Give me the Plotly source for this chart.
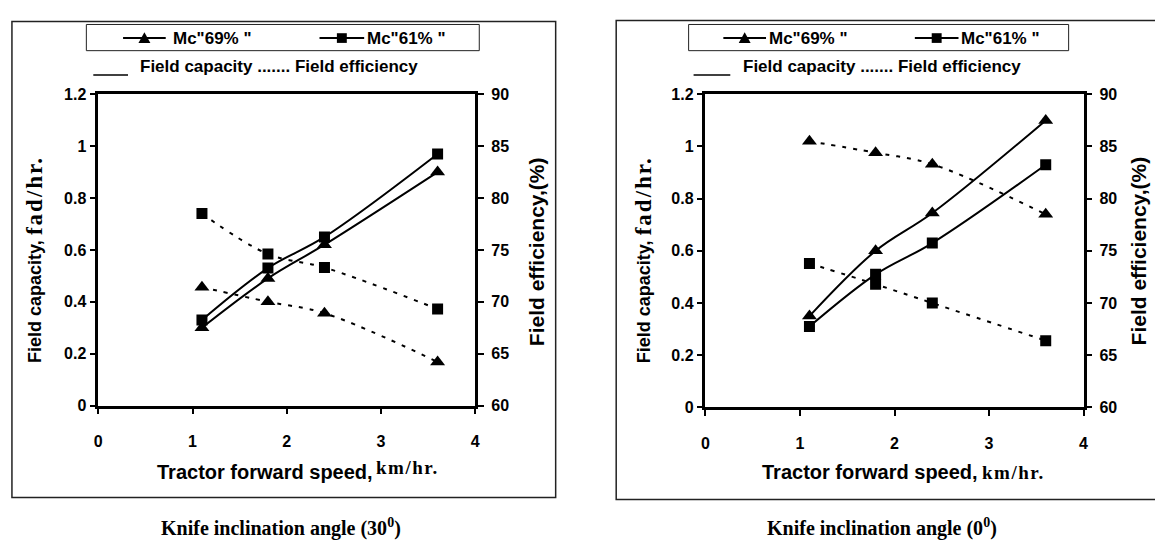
import plotly.graph_objects as go

W, H = 1155, 558

# ---------------- data ----------------
speed = [1.1, 1.8, 2.4, 3.6]

# Knife inclination angle 30 deg (left)
fc69_30 = [0.30, 0.49, 0.62, 0.90]
fc61_30 = [0.33, 0.53, 0.65, 0.97]
fe69_30 = [71.4, 70.0, 68.9, 64.2]
fe61_30 = [78.5, 74.6, 73.3, 69.3]

# Knife inclination angle 0 deg (right)
fc69_0 = [0.35, 0.60, 0.745, 1.10]
fc61_0 = [0.31, 0.51, 0.63, 0.93]
fe69_0 = [85.5, 84.4, 83.3, 78.5]
fe61_0 = [73.8, 71.8, 70.0, 66.4]

x_ticks = [0, 1, 2, 3, 4]
fc_range = [0, 1.2]
fe_range = [60, 90]

legend_labels = ['Mc"69% "', 'Mc"61% "']
row2_label = "Field capacity ....... Field efficiency"
x_title = "Tractor forward speed,"
x_unit = "km/hr."
y1_title = "Field capacity,"
y1_unit = "fad/hr."
y2_title = "Field efficiency,(%)"
captions = ["Knife inclination angle (30<sup>0</sup>)", "Knife inclination angle (0<sup>0</sup>)"]

SANS = "Liberation Sans, Arial, sans-serif"
SERIF = "Liberation Serif, Times New Roman, serif"


def px(x):
    return x / W


def py(y):
    return 1 - y / H


fig = go.Figure()

panels = [
    dict(x0=95, x1=475, y0=89, y1=410, xa="x", ya="y", ya2="y2",
         fc69=fc69_30, fc61=fc61_30, fe69=fe69_30, fe61=fe61_30),
    dict(x0=707, x1=1088, y0=89, y1=412, xa="x2", ya="y3", ya2="y4",
         fc69=fc69_0, fc61=fc61_0, fe69=fe69_0, fe61=fe61_0),
]

DOT = "4px,7px"
for p in panels:
    for key, sym, yax, dash in [("fc69", "triangle-up", p["ya"], "solid"),
                                ("fc61", "square", p["ya"], "solid"),
                                ("fe69", "triangle-up", p["ya2"], DOT),
                                ("fe61", "square", p["ya2"], DOT)]:
        fig.add_trace(go.Scatter(
            x=speed, y=p[key], xaxis=p["xa"], yaxis=yax,
            mode="lines+markers",
            line=dict(color="black", width=2, dash=dash, shape="spline", smoothing=1),
            marker=dict(symbol=sym, color="black", size=13 if sym == "triangle-up" else 11),
            showlegend=False, hoverinfo="skip"))

tickfont = dict(family=SANS, size=16, color="black", weight="bold")
layout = dict(
    width=W, height=H, margin=dict(l=0, r=0, t=0, b=0),
    paper_bgcolor="white", plot_bgcolor="white", showlegend=False,
)

axes_names = [("xaxis", "yaxis", "yaxis2", "yaxis5"), ("xaxis2", "yaxis3", "yaxis4", "yaxis6")]
for p, (xn, yn, y2n, y3n) in zip(panels, axes_names):
    layout[xn] = dict(domain=[px(p["x0"]), px(p["x1"])], range=[0, 4], tickvals=x_ticks,
                      anchor=p["ya"], ticks="outside", ticklen=6, tickwidth=2, tickcolor="black",
                      showline=True, linewidth=2.5, linecolor="black", mirror=True,
                      showgrid=False, zeroline=False, tickfont=tickfont, ticklabelstandoff=14,
                      fixedrange=True)
    layout[yn] = dict(domain=[py(p["y1"]), py(p["y0"])], range=fc_range, dtick=0.2, tick0=0,
                      anchor=p["xa"], ticks="outside", ticklen=6, tickwidth=2, tickcolor="black",
                      showline=True, linewidth=2.5, linecolor="black",
                      showgrid=False, zeroline=False, tickfont=tickfont, fixedrange=True)
    layout[y2n] = dict(overlaying=p["ya"], side="right", anchor=p["xa"], range=fe_range,
                       dtick=5, tick0=60, ticks="outside", ticklen=6, tickwidth=2, tickcolor="black",
                       showline=True, linewidth=2.5, linecolor="black",
                       showgrid=False, zeroline=False, tickfont=tickfont, ticklabelstandoff=4,
                       fixedrange=True)
    # inside half of the cross ticks on the right axis
    layout[y3n] = dict(overlaying=p["ya"], side="right", anchor=p["xa"], range=fe_range,
                       dtick=5, tick0=60, ticks="inside", ticklen=6, tickwidth=2, tickcolor="black",
                       showline=False, showticklabels=False, showgrid=False, zeroline=False,
                       fixedrange=True)
fig.update_layout(**layout)

shapes = []
annotations = []

# outer frames
shapes.append(dict(type="rect", xref="paper", yref="paper", x0=px(8), x1=px(556), y0=py(505), y1=py(14),
                   line=dict(color="#222", width=1.5)))
shapes.append(dict(type="rect", xref="paper", yref="paper", x0=px(617), x1=px(1165), y0=py(507), y1=py(13),
                   line=dict(color="#222", width=1.5)))

legends = [
    dict(box=(83, 479), e1=(120, 163, 168), e2=(318, 363, 364), r2line=(90, 125), r2text=135),
    dict(box=(690, 1073), e1=(725, 768, 769), e2=(918, 962, 962), r2line=(695, 732), r2text=743),
]


def tri(cx, cy, s=6):
    return (f"M {px(cx - s)} {py(cy + s - 1)} L {px(cx + s)} {py(cy + s - 1)} "
            f"L {px(cx)} {py(cy - s)} Z")


for lg in legends:
    bx0, bx1 = lg["box"]
    shapes.append(dict(type="rect", xref="paper", yref="paper", x0=px(bx0), x1=px(bx1),
                       y0=py(44), y1=py(17), line=dict(color="#222", width=1)))
    cy = 31
    for (l0, l1, tx), label, sym in [(lg["e1"], legend_labels[0], "tri"), (lg["e2"], legend_labels[1], "sq")]:
        shapes.append(dict(type="line", xref="paper", yref="paper", x0=px(l0), x1=px(l1),
                           y0=py(cy), y1=py(cy), line=dict(color="black", width=2)))
        cx = (l0 + l1) / 2
        if sym == "tri":
            shapes.append(dict(type="path", xref="paper", yref="paper", path=tri(cx, cy),
                               fillcolor="black", line=dict(color="black", width=0)))
        else:
            shapes.append(dict(type="rect", xref="paper", yref="paper", x0=px(cx - 5), x1=px(cx + 5),
                               y0=py(cy + 5), y1=py(cy - 5), fillcolor="black",
                               line=dict(color="black", width=0)))
        annotations.append(dict(xref="paper", yref="paper", x=px(tx), y=py(cy), xanchor="left",
                                yanchor="middle", text=label, showarrow=False,
                                font=dict(family=SANS, size=17, color="black", weight="bold")))
    l0, l1 = lg["r2line"]
    shapes.append(dict(type="line", xref="paper", yref="paper", x0=px(l0), x1=px(l1),
                       y0=py(69), y1=py(69), line=dict(color="black", width=1.5)))
    annotations.append(dict(xref="paper", yref="paper", x=px(lg["r2text"]), y=py(60), xanchor="left",
                            yanchor="middle", text=row2_label, showarrow=False,
                            font=dict(family=SANS, size=17, color="black", weight="bold")))

# axis titles
titles = [
    dict(xt=152, xu=373, yu_raise=5, ly=32, ry=537, cap=279),
    dict(xt=762, xu=984, yu_raise=0, ly=645, ry=1143, cap=885),
]
for t, cap in zip(titles, captions):
    annotations.append(dict(xref="paper", yref="paper", x=px(t["xt"]), y=py(479), xanchor="left",
                            yanchor="middle", text=x_title, showarrow=False,
                            font=dict(family=SANS, size=20, color="black", weight="bold")))
    annotations.append(dict(xref="paper", yref="paper", x=px(t["xu"]), y=py(479 - t["yu_raise"]),
                            xanchor="left", yanchor="middle",
                            text=f'<span style="letter-spacing:1.5px">{x_unit}</span>', showarrow=False,
                            font=dict(family=SERIF, size=19, color="black", weight="bold")))
    annotations.append(dict(xref="paper", yref="paper", x=px(t["ly"]), y=py(368), xanchor="center",
                            yanchor="bottom", text=y1_title, textangle=-90, showarrow=False,
                            font=dict(family=SANS, size=18, color="black", weight="bold")))
    annotations.append(dict(xref="paper", yref="paper", x=px(t["ly"] - 1), y=py(236), xanchor="center",
                            yanchor="bottom",
                            text=f'<span style="letter-spacing:2px">{y1_unit}</span>',
                            textangle=-90, showarrow=False,
                            font=dict(family=SERIF, size=23, color="black", weight="bold")))
    annotations.append(dict(xref="paper", yref="paper", x=px(t["ry"]), y=py(251), xanchor="center",
                            yanchor="middle", text=y2_title, textangle=-90, showarrow=False,
                            font=dict(family=SANS, size=21, color="black", weight="bold")))
    annotations.append(dict(xref="paper", yref="paper", x=px(t["cap"]), y=py(536), xanchor="center",
                            yanchor="middle", text=cap, showarrow=False,
                            font=dict(family=SERIF, size=20, color="black", weight="bold")))

fig.update_layout(shapes=shapes, annotations=annotations)
fig.write_html("out.html")
